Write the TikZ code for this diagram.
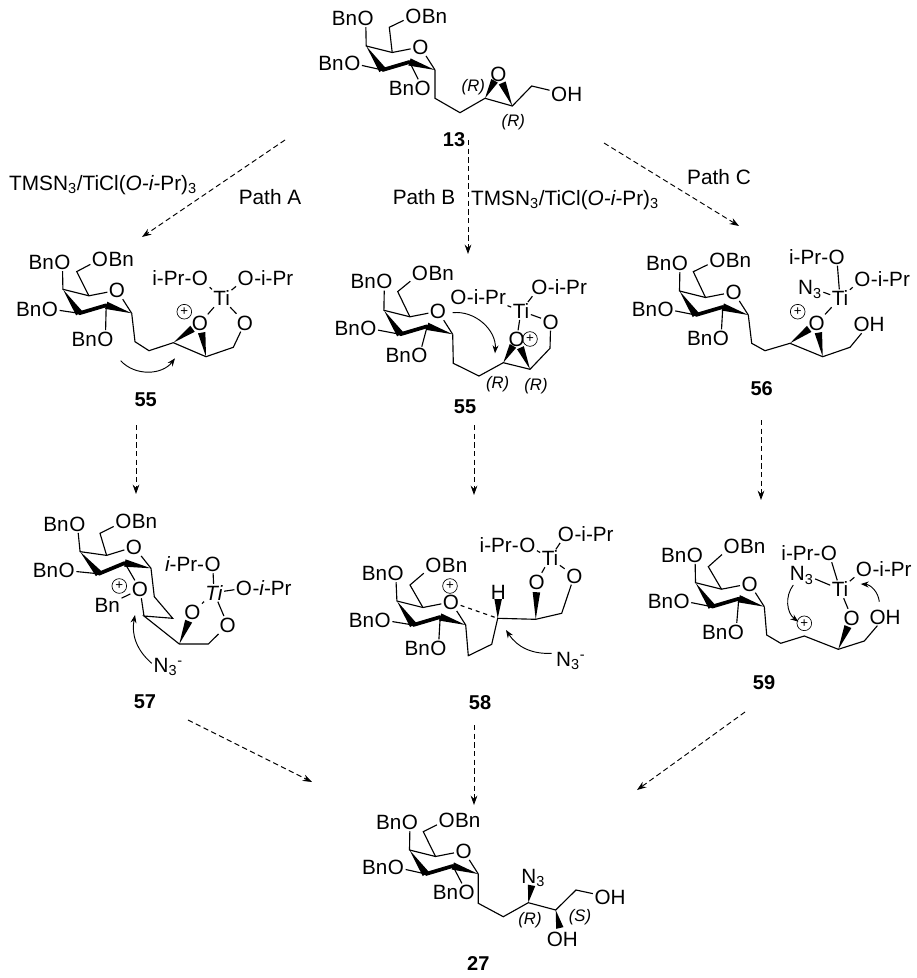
\documentclass[tikz,border=0pt]{standalone}
\usepackage{fontspec}
\setmainfont{Liberation Sans}
\usetikzlibrary{positioning,calc,arrows.meta}
\tikzset{
  atom/.style={inner sep=1pt,text height=11pt,text depth=0pt,font=\fontsize{15.5}{17}\selectfont},
  stereo/.style={inner sep=0pt,font=\fontsize{12.5}{14}\selectfont\itshape},
  compound/.style={inner sep=0pt,font=\fontsize{15}{17}\selectfont\bfseries},
  caption/.style={inner sep=0pt,font=\fontsize{15.6}{18}\selectfont},
  plusmark/.style={circle,draw,line width=0.5pt,inner sep=0pt,minimum size=11pt,font=\fontsize{10}{10}\selectfont},
  bond/.style={line width=0.85pt},
  boldbond/.style={line width=2.8pt,line cap=round},
  dashbond/.style={line width=0.85pt,dashed},
  pathway/.style={line width=0.7pt,dash pattern=on 4pt off 2.5pt,-{Stealth[length=7pt,width=5pt]}},
  push/.style={line width=0.7pt,-{Stealth[length=6pt,width=4.5pt]}},
}
% wedge from a thin end to a wide end part of the way to the second point
\newcommand{\wedgebond}[3]{
  \fill ($(#1)$) -- ($($(#1)!#3!(#2)$)!2.8pt!90:(#1)$) -- ($($(#1)!#3!(#2)$)!2.8pt!-90:(#1)$) -- cycle;
}
% id, C1 position, ring rotation, then C6, O6, O4, O3, O2 relative to C1
\newcommand{\sugar}[8]{
  \begin{scope}[shift={(#2)}]
  \begin{scope}[rotate=#3]
  \coordinate (#1c1) at (0,0);
  \coordinate (#1c2) at (-25.5,-8);
  \coordinate (#1c3) at (-52.5,0);
  \coordinate (#1c4) at (-68.8,-24);
  \coordinate (#1c5) at (-42.8,-17.5);
  \node[atom] (#1o) at (-14.7,-23) {O};
  \end{scope}
  \coordinate (#1c6) at (#4);
  \node[atom] (#1o6) at (#5) {O};
  \node[atom,right=-2pt of #1o6] (#1bn6) {Bn};
  \node[atom] (#1o4) at (#6) {O};
  \node[atom,left=-2pt of #1o4] (#1bn4) {Bn};
  \node[atom] (#1o3) at (#7) {O};
  \node[atom,left=-2pt of #1o3] (#1bn3) {Bn};
  \node[atom] (#1o2) at (#8) {O};
  \end{scope}
  \draw[bond] (#1c1) -- (#1o) -- (#1c5) -- (#1c4) -- (#1o4);
  \draw[bond] (#1c5) -- (#1c6) -- (#1o6);
  \draw[bond] (#1c3) -- (#1o3);
  \draw[bond] (#1c2) -- (#1o2);
  \draw[boldbond] (#1c3) -- (#1c2);
  \wedgebond{#1c4}{#1c3}{1}
  \wedgebond{#1c1}{#1c2}{1}
}
\begin{document}
\begin{tikzpicture}[x=0.75pt,y=-0.75pt]
\useasboundingbox (0,0) rectangle (917,978);

% 13
\sugar{s13}{435,70}{0}{-45.7,-42.7}{-21.7,-54.3}{-69.3,-51.7}{-82.7,-6.7}{-12.3,18.3}
\node[atom,left=-2pt of s13o2] (s13bn2) {Bn};
\coordinate (s13a) at (435,98.3);
\coordinate (s13b) at (460,112.7);
\coordinate (s13e) at (485,98.3);
\coordinate (s13f) at (512.3,106);
\coordinate (s13g) at (531.7,86);
\node[atom] (s13oe) at (498.3,74) {O};
\node[atom] (s13oh) at (566.7,94.3) {OH};
\draw[bond] (s13c1) -- (s13a) -- (s13b) -- (s13e) -- (s13f) -- (s13g) -- (s13oh);
\wedgebond{s13e}{s13oe}{0.72}
\wedgebond{s13f}{s13oe}{0.72}
\node[stereo] (s13r1) at (473.3,87.3) {(R)};
\node[stereo] (s13r2) at (513.3,121.7) {(R)};
\node[compound] (n13) at (454,140) {13};

% 55 left
\sugar{s55}{131.7,313.3}{0}{-55,-41.7}{-31.7,-54}{-69.3,-51}{-81.7,-4.3}{-26.3,25.7}
\node[atom,left=-2pt of s55o2] (s55bn2) {Bn};
\coordinate (s55a) at (135,341.7);
\coordinate (s55b) at (149,350.7);
\coordinate (s55e) at (173.3,342.7);
\coordinate (s55f) at (206,356.7);
\coordinate (s55g) at (233.3,347.3);
\node[atom] (s55oe) at (200,323.3) {O};
\node[atom] (s55ox) at (245,322.7) {O};
\node[atom] (s55ti) at (221.7,298.3) {Ti};
\node[atom] (s55ol) at (200,278.3) {O};
\node[atom,left=-2pt of s55ol] (s55ipl) {i-Pr-};
\node[atom] (s55or) at (245.7,278.3) {O};
\node[atom,right=-2pt of s55or] (s55ipr) {-i-Pr};
\node[plusmark] (s55p) at (184.3,311.7) {+};
\draw[bond] (s55c1) -- (s55a) -- (s55b) -- (s55e) -- (s55f) -- (s55g) -- (s55ox) -- (s55ti) -- (s55ol);
\draw[bond] (s55ti) -- (s55or);
\draw[bond] (s55ti) -- (s55oe);
\wedgebond{s55e}{s55oe}{0.72}
\wedgebond{s55f}{s55oe}{0.72}
\coordinate (s55ps) at (120.7,360.7);
\coordinate (s55pe) at (175,358.3);
\draw[push] (s55ps) to[bend right=50] (s55pe);
\node[compound] (n55) at (145.7,400) {55};

% 55 middle
\sugar{t55}{452.7,334.3}{0}{-55,-42.7}{-32.7,-61}{-68.3,-52.7}{-84.3,-6}{-33.3,21.3}
\node[atom,left=-2pt of t55o2] (t55bn2) {Bn};
\coordinate (t55a) at (453.3,363.3);
\coordinate (t55b) at (479,376);
\coordinate (t55e) at (503.3,362.7);
\coordinate (t55f) at (530,369.3);
\coordinate (t55g) at (550,348.3);
\node[atom] (t55oe) at (516.7,339.3) {O};
\node[atom] (t55ox) at (550.7,321.7) {O};
\node[atom] (t55ti) at (521,311) {Ti};
\node[atom] (t55ol) at (458.3,297.3) {O};
\node[atom,right=-2pt of t55ol] (t55ipl) {-i-Pr};
\node[atom] (t55or) at (539.3,287.3) {O};
\node[atom,right=-2pt of t55or] (t55ipr) {-i-Pr};
\node[plusmark] (t55p) at (530,339) {+};
\draw[bond] (t55c1) -- (t55a) -- (t55b) -- (t55e) -- (t55f) -- (t55g) -- (t55ox) -- (t55ti) -- (t55ipl);
\draw[bond] (t55ti) -- (t55or);
\draw[bond] (t55ti) -- (t55oe);
\wedgebond{t55e}{t55oe}{0.72}
\wedgebond{t55f}{t55oe}{0.72}
\coordinate (t55ps) at (452.7,312.7);
\coordinate (t55pe) at (495,353.3);
\draw[push] (t55ps) to[bend left=50] (t55pe);
\node[stereo] (t55r1) at (497.7,384.3) {(R)};
\node[stereo] (t55r2) at (536,386) {(R)};
\node[compound] (m55) at (465,406.7) {55};

% 56
\sugar{s56}{748.3,315}{0}{-55,-43.3}{-31,-55}{-68.3,-51.7}{-82.7,-6}{-27.3,23.3}
\node[atom,left=-2pt of s56o2] (s56bn2) {Bn};
\coordinate (s56a) at (751.7,343.3);
\coordinate (s56b) at (765,350.7);
\coordinate (s56e) at (790,343.3);
\coordinate (s56f) at (822.7,356.7);
\coordinate (s56g) at (850,347.3);
\node[atom] (s56oe) at (816.7,323.3) {O};
\node[atom] (s56oh) at (869,324.3) {OH};
\node[atom] (s56ti) at (840,298.3) {Ti};
\node[atom] (s56n) at (810,287.3) {N\textsubscript{3}};
\node[atom] (s56ot) at (836.7,256.7) {O};
\node[atom,left=-2pt of s56ot] (s56ipl) {i-Pr-};
\node[atom] (s56or) at (862.3,279) {O};
\node[atom,right=-2pt of s56or] (s56ipr) {-i-Pr};
\node[plusmark] (s56p) at (797.7,311.7) {+};
\draw[bond] (s56c1) -- (s56a) -- (s56b) -- (s56e) -- (s56f) -- (s56g) -- (s56oh);
\draw[bond] (s56ti) -- (s56oe);
\draw[bond] (s56ti) -- (s56ot);
\draw[bond] (s56ti) -- (s56or);
\draw[bond] (s56ti) -- (s56n);
\wedgebond{s56e}{s56oe}{0.72}
\wedgebond{s56f}{s56oe}{0.72}
\node[compound] (n56) at (761.7,388.3) {56};

% 57
\sugar{s57}{151,568.3}{6}{-51,-35}{-27.7,-46.7}{-73.7,-44.3}{-84.3,2.3}{-11,21}
\node[atom] (s57bn2) at (107.3,605) {Bn};
\coordinate (s57a) at (154.3,596.7);
\coordinate (s57b) at (172.7,618.3);
\coordinate (s57c) at (144,616);
\coordinate (s57f) at (179.3,644);
\coordinate (s57g) at (208.3,644);
\node[atom] (s57oe) at (192.3,612.3) {O};
\node[atom] (s57ox) at (227.7,625) {O};
\node[atom] (s57ti) at (214,592.7) {\itshape Ti};
\node[atom] (s57ot) at (212.7,564.3) {O};
\node[atom,left=-2pt of s57ot] (s57ipl) {\itshape i\upshape-Pr-};
\node[atom] (s57or) at (244,588.3) {O};
\node[atom,right=-2pt of s57or] (s57ipr) {-\itshape i\upshape-Pr};
\node[plusmark] (s57p) at (119.3,586) {+};
\draw[bond] (s57c1) -- (s57a) -- (s57b) -- (s57c) -- (s57f) -- (s57g) -- (s57ox) -- (s57ti) -- (s57oe);
\draw[bond] (s57o2) -- (s57c);
\draw[bond] (s57o2) -- (s57bn2);
\draw[bond] (s57ti) -- (s57ot);
\draw[bond] (s57ti) -- (s57or);
\wedgebond{s57f}{s57oe}{0.72}
\node[atom] (s57n) at (168.3,665) {N\textsubscript{3}\textsuperscript{-}};
\coordinate (s57ps) at (151.7,663.3);
\coordinate (s57pe) at (135,615);
\draw[push] (s57ps) to[bend left=30] (s57pe);
\node[compound] (n57) at (145,701.7) {57};

% 58
\sugar{s58}{465.7,625}{0}{-55.7,-40}{-32.3,-60}{-70,-51.7}{-83,-5}{-27.3,23.3}
\node[atom,left=-2pt of s58o2] (s58bn2) {Bn};
\coordinate (s58a) at (468.3,655.7);
\coordinate (s58b) at (491.7,644.3);
\coordinate (s58e) at (497.7,618.3);
\coordinate (s58f) at (535.7,619.3);
\coordinate (s58g) at (561.7,613.3);
\node[atom] (s58h) at (498.3,591.7) {H};
\node[atom] (s58oe) at (536.7,581.7) {O};
\node[atom] (s58ox) at (574.3,575.7) {O};
\node[atom] (s58ti) at (550,558.3) {Ti};
\node[atom] (s58ol) at (527.3,545) {O};
\node[atom,left=-2pt of s58ol] (s58ipl) {i-Pr-};
\node[atom] (s58or) at (566,534) {O};
\node[atom,right=-2pt of s58or] (s58ipr) {-i-Pr};
\node[plusmark] (s58p) at (450,586) {+};
\draw[bond] (s58c1) -- (s58a) -- (s58b) -- (s58e) -- (s58f) -- (s58g) -- (s58ox) -- (s58ti) -- (s58ol);
\draw[bond] (s58ti) -- (s58or);
\draw[bond] (s58ti) -- (s58oe);
\draw[dashbond] (s58o) -- (s58e);
\wedgebond{s58e}{s58h}{0.72}
\wedgebond{s58f}{s58oe}{0.72}
\node[atom] (s58n) at (570.7,659) {N\textsubscript{3}\textsuperscript{-}};
\coordinate (s58ps) at (551.7,653.3);
\coordinate (s58pe) at (506,630);
\draw[push] (s58ps) to[bend left=30] (s58pe);
\node[compound] (n58) at (480,702.7) {58};

% 59
\sugar{s59}{764.3,606.7}{0}{-56,-40}{-32.7,-60.7}{-69.3,-51.7}{-82.7,-6}{-28.3,25}
\node[atom,left=-2pt of s59o2] (s59bn2) {Bn};
\coordinate (s59a) at (766.7,635);
\coordinate (s59b) at (780.7,643.3);
\coordinate (s59e) at (804.3,636);
\coordinate (s59f) at (838.3,649.3);
\coordinate (s59g) at (864.3,641);
\node[atom] (s59oe) at (851.7,617.7) {O};
\node[atom] (s59oh) at (885,616.7) {OH};
\node[atom] (s59ti) at (840,589.3) {Ti};
\node[atom] (s59n) at (801.7,573.3) {N\textsubscript{3}};
\node[atom] (s59ot) at (829,553.3) {O};
\node[atom,left=-2pt of s59ot] (s59ipl) {i-Pr-};
\node[atom] (s59or) at (864,569.3) {O};
\node[atom,right=-2pt of s59or] (s59ipr) {-i-Pr};
\node[plusmark] (s59p) at (804.3,623.3) {+};
\draw[bond] (s59c1) -- (s59a) -- (s59b) -- (s59e) -- (s59f) -- (s59g) -- (s59oh);
\draw[bond] (s59ti) -- (s59oe);
\draw[bond] (s59ti) -- (s59ot);
\draw[bond] (s59ti) -- (s59or);
\draw[bond] (s59ti) -- (s59n);
\wedgebond{s59f}{s59oe}{0.72}
\coordinate (s59ps) at (793.3,585);
\coordinate (s59pe) at (798.3,621.7);
\draw[push] (s59ps) to[bend right=45] (s59pe);
\coordinate (s59qs) at (879.3,601.7);
\coordinate (s59qe) at (860.7,584);
\draw[push] (s59qs) to[bend right=40] (s59qe);
\node[compound] (n59) at (764,682.7) {59};

% 27
\sugar{s27}{478.3,874}{0}{-55,-42.3}{-31.7,-54}{-68.3,-51.7}{-82.3,-6.7}{-11.7,18.3}
\node[atom,left=-2pt of s27o2] (s27bn2) {Bn};
\coordinate (s27a) at (478.3,903.3);
\coordinate (s27b) at (503.3,916.7);
\coordinate (s27e) at (528.3,902.7);
\coordinate (s27f) at (555.7,910);
\coordinate (s27g) at (576,890);
\node[atom] (s27n) at (533.3,876) {N\textsubscript{3}};
\node[atom] (s27oh) at (610,897.3) {OH};
\node[atom] (s27ho) at (562.3,939) {OH};
\draw[bond] (s27c1) -- (s27a) -- (s27b) -- (s27e) -- (s27f) -- (s27g) -- (s27oh);
\wedgebond{s27e}{s27n}{0.65}
\wedgebond{s27f}{s27ho}{0.62}
\node[stereo] (s27r) at (530,920) {(R)};
\node[stereo] (s27s) at (580,917.3) {(S)};
\node[compound] (n27) at (478.3,964) {27};

% pathways
\coordinate (p1s) at (285,140);
\coordinate (p1e) at (142,237);
\coordinate (p2s) at (468,140);
\coordinate (p2e) at (468,254);
\coordinate (p3s) at (604,143);
\coordinate (p3e) at (739,226);
\coordinate (p4s) at (136,425);
\coordinate (p4e) at (136,494);
\coordinate (p5s) at (474,425);
\coordinate (p5e) at (474,495);
\coordinate (p6s) at (761,420);
\coordinate (p6e) at (761,500);
\coordinate (p7s) at (188,720);
\coordinate (p7e) at (312,782);
\coordinate (p8s) at (474,725);
\coordinate (p8e) at (474,805);
\coordinate (p9s) at (745,712);
\coordinate (p9e) at (637,790);
\foreach \k in {1,...,9}
  \draw[pathway] (p\k s) -- (p\k e);

\node[caption] (reagl) at (103,185) {TMSN\textsubscript{3}/TiCl(\textit{O-i-}Pr)\textsubscript{3}};
\node[caption] (pa) at (270,197) {Path A};
\node[caption] (pb) at (424,197) {Path B};
\node[caption] (reagm) at (565,200) {TMSN\textsubscript{3}/TiCl(\textit{O-i-}Pr)\textsubscript{3}};
\node[caption] (pc) at (719,177) {Path C};
\end{tikzpicture}
\end{document}
